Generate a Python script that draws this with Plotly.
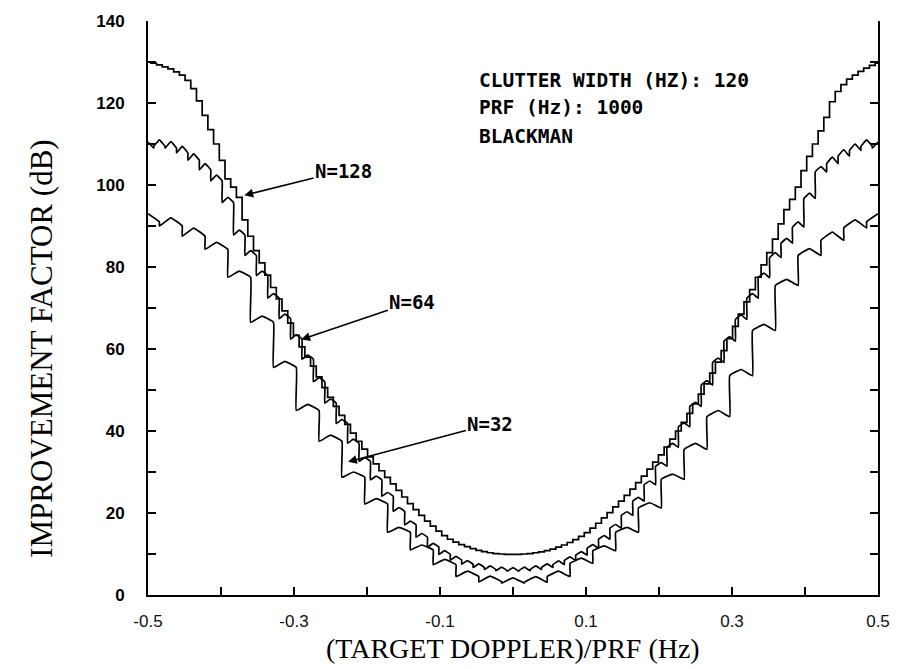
import numpy as np
import plotly.graph_objects as go

# Doppler bin centres (filter-bank bins) across one PRF interval
n32_x = np.linspace(-0.5, 0.5, 33)
n64_x = np.linspace(-0.5, 0.5, 65)
n128_x = np.linspace(-0.5, 0.5, 129)

# Improvement factor (dB): arc top of each Doppler bin
n32_peak = [93, 92, 89.5, 86, 79, 68, 57, 46.5, 39, 30, 23.5, 16.5, 12.2, 8.7, 5.8, 4.6,
            4.2,
            4.5, 5.8, 9, 12, 16.5, 22.5, 29.5, 37, 45, 55, 66, 77, 84.5, 88.5, 91.5, 93]
# ... and the value at the bin edges (cusps between arcs)
n32_cusp = [91, 90, 87.5, 84.3, 77.5, 66.5, 55.5, 45, 37.5, 28.7, 22.2, 15.3, 11, 7.4, 4.5,
            3.2, 2.9,
            3.1, 4.5, 7.7, 10.8, 15.3, 21.2, 28.2, 35.5, 43.5, 53.5, 64.5, 75.5, 82.8, 86.5,
            89.5, 91]

n64_peak = [110.5, 111, 110.6, 109.4, 107.6, 105.2, 102.4, 97, 89, 84, 79, 73.5, 68.5, 63.5,
            58.5, 53, 47.8, 42.8, 38, 33.5, 29, 25, 21.3, 18, 15, 12.6, 10.8, 9.4, 8.4, 7.6,
            7.1, 6.8,
            6.7,
            6.8, 7.1, 7.6, 8.3, 9.3, 10.6, 12.3, 14.5, 17.2, 20.3, 23.8, 27.8, 32.3, 37, 42,
            47, 52.3, 57.8, 63, 68.3, 73.5, 78.5, 83.5, 87, 91, 98, 104.5, 106.8, 108.6, 110,
            111, 110.5]
n64_cusp = [109, 109.4, 109, 107.8, 106, 103.7, 101, 95.7, 87.8, 82.8, 77.9, 72.4, 67.4, 62.4,
            57.5, 52, 46.8, 41.8, 37, 32.6, 28.1, 24.1, 20.4, 17.1, 14.1, 11.7, 9.9, 8.5, 7.5,
            6.7, 6.2, 5.9,
            5.8,
            5.9, 6.2, 6.7, 7.4, 8.4, 9.7, 11.4, 13.6, 16.3, 19.4, 22.9, 26.9, 31.4, 36, 41,
            46, 51.2, 56.7, 61.9, 67.2, 72.4, 77.4, 82.3, 85.8, 89.7, 96.7, 103.2, 105.2, 107,
            108.4, 109.4, 109]

n128_db = [130, 129.7, 129.3, 128.8, 128.3, 127.6, 126.8, 125.5, 123.5, 120.5, 117, 113.5,
           110, 106, 101.5, 99.5, 97, 91.5, 87.5, 84, 81, 78, 75, 72.2, 69.3, 66.3, 63.3,
           60.5, 58, 55.8, 53.2, 50.6, 48.2, 46, 43.8, 41.6, 39.5, 37.5, 35.6, 33.7, 32,
           30.3, 28.7, 27.1, 25.5, 23.9, 22.3, 20.8, 19.4, 18, 16.8, 15.6, 14.5, 13.6, 12.9,
           12.3, 11.8, 11.3, 10.9, 10.6, 10.3, 10.1, 10.0, 9.9,
           9.9,
           9.9, 10, 10.1, 10.3, 10.5, 10.8, 11.2, 11.7, 12.2, 12.8, 13.5, 14.3, 15.2, 16.3,
           17.5, 18.8, 20.1, 21.5, 22.9, 24.3, 25.8, 27.4, 29, 30.7, 32.4, 34.2, 36.1, 38,
           40, 42.1, 44.3, 46.6, 49, 51.5, 54.1, 56.8, 59.6, 62.5, 65.5, 68.5, 71.5, 74.5,
           77.5, 80.5, 83.5, 86.8, 90.5, 94, 96.5, 99.5, 103.5, 107, 110, 113.2, 116.5,
           120.3, 122.8, 124.5, 125.8, 126.8, 127.7, 128.5, 129.2, 129.7]

x_tickvals = [-0.5, -0.4, -0.3, -0.2, -0.1, 0.0, 0.1, 0.2, 0.3, 0.4, 0.5]
x_ticktext = ["-0.5", "", "-0.3", "", "-0.1", "", "0.1", "", "0.3", "", "0.5"]
y_tickvals = [0, 20, 40, 60, 80, 100, 120, 140]

info_lines = ["CLUTTER WIDTH (HZ): 120", "PRF (Hz): 1000", "BLACKMAN"]
info_y = [125.6, 118.8, 111.9]

# (label, label centre x, label centre y, arrow tip x, arrow tip y)
curve_labels = [("N=128", -0.232, 103.5, -0.368, 97.5),
                ("N=64", -0.138, 71.5, -0.290, 62.3),
                ("N=32", -0.031, 41.7, -0.226, 32.5)]


def scalloped(centres, peak, cusp):
    """Each Doppler bin is drawn as an arc: cusp at the bin edges, peak at the centre."""
    centres = list(centres)
    half = (centres[1] - centres[0]) / 2
    xs, ys = [], []
    for c, p, e in zip(centres, peak, cusp):
        lo, hi = max(c - half, centres[0]), min(c + half, centres[-1])
        if lo < c:
            xs.append(lo); ys.append(e)
        xs.append(c); ys.append(p)
        if hi > c:
            xs.append(hi); ys.append(e)
    return xs, ys


fig = go.Figure()
for xs, ys, name in [(*scalloped(n32_x, n32_peak, n32_cusp), "N=32"),
                     (*scalloped(n64_x, n64_peak, n64_cusp), "N=64")]:
    fig.add_trace(go.Scatter(x=xs, y=ys, mode="lines", name=name,
                             line=dict(color="black", width=1.7, shape="spline", smoothing=0.3),
                             showlegend=False))
fig.add_trace(go.Scatter(x=n128_x, y=n128_db, mode="lines", name="N=128",
                         line=dict(color="black", width=1.7, shape="hvh"),
                         showlegend=False))

plot_font = "DejaVu Sans Mono"
for txt, yy in zip(info_lines, info_y):
    fig.add_annotation(x=-0.049, y=yy, xref="x", yref="y", text=txt, showarrow=False,
                       xanchor="left", yanchor="middle",
                       font=dict(family=plot_font, size=19.5, color="black", weight="bold"))

for txt, lx, ly, tx, ty in curve_labels:
    fig.add_annotation(x=tx, y=ty, xref="x", yref="y", ax=lx, ay=ly, axref="x", ayref="y",
                       text=txt, showarrow=True, arrowhead=2, arrowsize=1.1, arrowwidth=1.6,
                       arrowcolor="black",
                       font=dict(family=plot_font, size=19, color="black", weight="bold"))

# axis titles
fig.add_annotation(x=0.5, y=-74 / 577, xref="paper", yref="paper", yshift=3,
                   text="(TARGET DOPPLER)/PRF (Hz)", showarrow=False,
                   xanchor="center", yanchor="bottom",
                   font=dict(family="Liberation Serif", size=28, color="black"))
fig.add_annotation(x=-0.147, y=0.43, xref="paper", yref="paper", textangle=-90,
                   text="IMPROVEMENT FACTOR (dB)", showarrow=False,
                   xanchor="center", yanchor="middle",
                   font=dict(family="Liberation Serif", size=31, color="black"))

fig.update_layout(
    width=902, height=669,
    margin=dict(l=148, r=20, t=18, b=74),
    paper_bgcolor="white", plot_bgcolor="white",
    xaxis=dict(range=[-0.5, 0.5], showgrid=False, zeroline=False,
               showline=True, linecolor="black", linewidth=2, mirror=False,
               ticks="inside", ticklen=8, tickwidth=1.5, tickcolor="black",
               tickvals=x_tickvals, ticktext=x_ticktext,
               ticklabelstandoff=10,
               tickfont=dict(family="Liberation Sans", size=17, color="#111")),
    yaxis=dict(range=[0, 140], showgrid=False, zeroline=False,
               showline=True, linecolor="black", linewidth=2, mirror="ticks",
               ticks="inside", ticklen=8, tickwidth=1.5, tickcolor="black",
               tickvals=y_tickvals,
               minor=dict(dtick=10, ticks="inside", ticklen=8, tickwidth=1.5, tickcolor="black"),
               ticklabelstandoff=18,
               tickfont=dict(family="Liberation Sans", size=17, color="black", weight="bold")),
)

fig.write_html("out.html", config={"displayModeBar": False},
               post_script="document.body.style.margin='0';document.body.style.overflow='hidden';")
